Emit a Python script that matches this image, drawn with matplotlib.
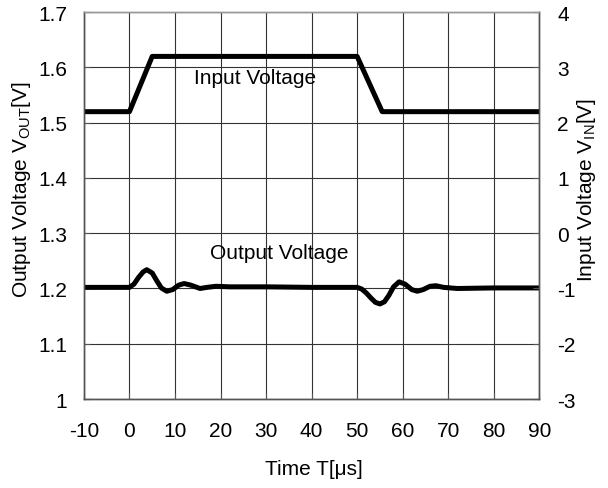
import matplotlib
matplotlib.use("Agg")
import matplotlib.pyplot as plt
from matplotlib.ticker import FuncFormatter

plt.rcParams['font.family'] = ['Liberation Sans', 'DejaVu Sans']
plt.rcParams['mathtext.fontset'] = 'custom'
plt.rcParams['mathtext.rm'] = 'Liberation Sans'
plt.rcParams['axes.unicode_minus'] = False

# Input step (right axis, V)
t_in = [-10, 0, 5, 50, 55.5, 90]
v_in = [2.2, 2.2, 3.2, 3.2, 2.2, 2.2]

# Output response (left axis, V)
t_out = [-10, 0, 1, 2, 3, 3.8, 5, 6, 7, 8.2, 9.5, 10.8, 12, 13.5, 15.5, 17, 19, 22,
         30, 40, 50, 51, 52, 53, 54, 55, 56, 57, 58, 59.2, 60.5, 62, 63.2, 64.5,
         66, 67.3, 69, 72, 80, 90]
v_out = [1.202, 1.202, 1.208, 1.220, 1.230, 1.234, 1.228, 1.214, 1.201, 1.195,
         1.198, 1.206, 1.209, 1.206, 1.200, 1.202, 1.204, 1.203, 1.203, 1.202,
         1.202, 1.199, 1.192, 1.183, 1.175, 1.172, 1.176, 1.188, 1.203, 1.212,
         1.208, 1.198, 1.195, 1.198, 1.204, 1.205, 1.202, 1.200, 1.201, 1.201]

x_ticks = list(range(-10, 91, 10))
left_ticks = [1.0, 1.1, 1.2, 1.3, 1.4, 1.5, 1.6, 1.7]
right_ticks = list(range(-3, 5))

fs = 15

fig = plt.figure(figsize=(6.08, 4.89), dpi=100)
ax = fig.add_axes([0.138, 0.182, 0.749, 0.791])
ax2 = ax.twinx()

ax.plot(t_out, v_out, color="black", lw=3.6, solid_capstyle="butt")
ax2.plot(t_in, v_in, color="black", lw=3.6, solid_capstyle="butt")

ax.set_xlim(-10, 90)
ax.set_ylim(1.0, 1.7)
ax2.set_ylim(-3, 4)
ax.set_xticks(x_ticks)
ax.set_yticks(left_ticks)
ax2.set_yticks(right_ticks)
ax.yaxis.set_major_formatter(FuncFormatter(lambda v, p: "%g" % round(v, 2)))

ax.grid(True, color="#333333", lw=0.8)
for a in (ax, ax2):
    a.tick_params(direction="in", labelsize=fs, length=4, color="#555555")
    for s in a.spines.values():
        s.set_color("#555555")
        s.set_linewidth(1.0)
ax.spines["top"].set_color("#999999")
ax2.spines["top"].set_color("#999999")
ax.tick_params(axis="y", pad=12)
ax.tick_params(axis="x", pad=16)
ax2.tick_params(axis="y", pad=13)

ax.text(27.6, 1.582, "Input Voltage", fontsize=fs, ha="center", va="center")
ax.text(33, 1.266, "Output Voltage", fontsize=fs, ha="center", va="center")

ax.set_xlabel("Time T[μs]", fontsize=fs)
ax.set_ylabel(r"Output Voltage V$_{\mathrm{OUT}}$[V]", fontsize=fs)
ax2.set_ylabel(r"Input Voltage V$_{\mathrm{IN}}$[V]", fontsize=fs)

# place axis titles by their centres
for lbl in (ax.xaxis.label, ax.yaxis.label, ax2.yaxis.label):
    lbl.set_rotation_mode("default")
    lbl.set_va("center")
    lbl.set_ha("center")
ax.xaxis.set_label_coords(0.504, -0.18)
ax.yaxis.set_label_coords(-0.136, 0.543)
ax2.yaxis.set_label_coords(1.103, 0.543)

fig.savefig("out.png", dpi=100)
